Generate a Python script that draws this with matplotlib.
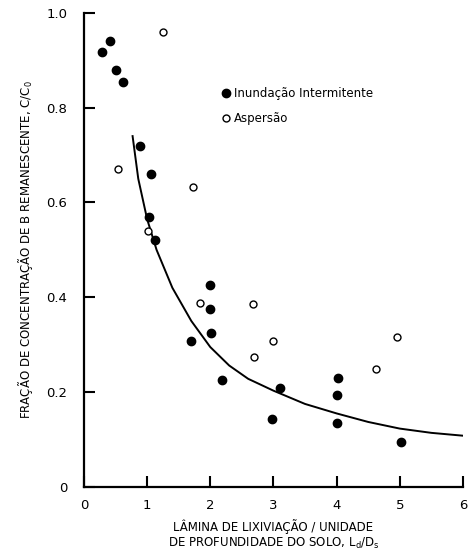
import matplotlib
matplotlib.use("Agg")
import matplotlib.pyplot as plt
from matplotlib.lines import Line2D

# Inundacao intermitente (filled)
x_inund = [0.29, 0.41, 0.51, 0.62, 0.88, 1.06, 1.03, 1.12, 2.0, 2.0, 2.01, 1.70, 2.19,
           3.10, 2.97, 4.02, 4.0, 4.0, 5.02]
y_inund = [0.918, 0.94, 0.88, 0.855, 0.72, 0.66, 0.57, 0.52, 0.426, 0.375, 0.325, 0.308, 0.226,
           0.209, 0.143, 0.23, 0.194, 0.135, 0.095]

# Aspersao (open)
x_asp = [1.25, 0.54, 1.73, 1.01, 1.83, 2.68, 3.0, 2.70, 4.95, 4.62]
y_asp = [0.96, 0.67, 0.633, 0.54, 0.388, 0.386, 0.308, 0.274, 0.316, 0.249]

# fitted curve
x_curve = [0.77, 0.86, 1.0, 1.15, 1.4, 1.7, 2.0, 2.3, 2.6, 3.0, 3.5, 4.0, 4.5, 5.0, 5.5, 6.0]
y_curve = [0.74, 0.65, 0.565, 0.50, 0.42, 0.35, 0.295, 0.256, 0.228, 0.203, 0.175, 0.155,
           0.137, 0.123, 0.114, 0.108]

xticks = [0, 1, 2, 3, 4, 5, 6]
yticks = [0, 0.2, 0.4, 0.6, 0.8, 1.0]
ytick_labels = ["0", "0.2", "0.4", "0.6", "0.8", "1.0"]

fig = plt.figure(figsize=(4.69, 5.59), dpi=100)
ax = fig.add_axes([0.179, 0.129, 0.808, 0.848])

ax.plot(x_curve, y_curve, color="black", lw=1.4)
ax.plot(x_inund, y_inund, "o", color="black", ms=6)
ax.plot(x_asp, y_asp, "o", mfc="white", mec="black", mew=1.0, ms=5)

ax.set_xlim(0, 6)
ax.set_ylim(0, 1.0)
ax.set_xticks(xticks)
ax.set_yticks(yticks)
ax.set_yticklabels(ytick_labels)
ax.tick_params(direction="in", length=8, width=1.5, labelsize=9.5)
ax.tick_params(axis="y", pad=12)
ax.tick_params(axis="x", pad=9)
for s in ["top", "right"]:
    ax.spines[s].set_visible(False)
for s in ["left", "bottom"]:
    ax.spines[s].set_linewidth(1.6)

ax.set_xlabel("LÂMINA DE LIXIVIAÇÃO / UNIDADE\nDE PROFUNDIDADE DO SOLO, $\\mathregular{L_d/D_s}$",
              fontsize=8.5, labelpad=5, linespacing=1.1)
ax.set_ylabel("FRAÇÃO DE CONCENTRAÇÃO DE B REMANESCENTE, $\\mathregular{C/C_0}$",
              fontsize=8.5, labelpad=8)

handles = [
    Line2D([], [], marker="o", ls="", color="black", ms=6),
    Line2D([], [], marker="o", ls="", mfc="white", mec="black", mew=1.0, ms=5),
]
ax.legend(handles, ["Inundação Intermitente", "Aspersão"], loc="upper left",
          bbox_to_anchor=(0.346, 0.853), frameon=False, fontsize=8.5,
          handletextpad=0.2, handlelength=1.0, labelspacing=1.0, borderaxespad=0)

fig.savefig("out.png", dpi=100)
